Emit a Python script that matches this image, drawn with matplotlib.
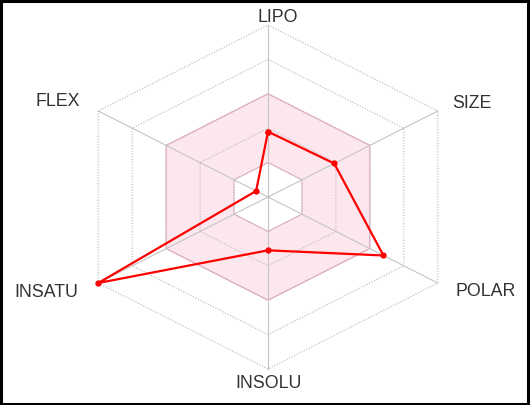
import numpy as np
import matplotlib
matplotlib.use("Agg")
import matplotlib.pyplot as plt
from matplotlib.patches import Rectangle, PathPatch
from matplotlib.path import Path

# axes of the bioavailability radar, clockwise from the top
labels = ["LIPO", "SIZE", "POLAR", "INSOLU", "INSATU", "FLEX"]
# values as a fraction of the outer ring
values = [0.38, 0.39, 0.68, 0.31, 1.0, 0.07]
# optimal range band (inner and outer ring)
band_lo = 0.2
band_hi = 0.6
rings = [0.2, 0.4, 0.6, 0.8, 1.0]

# label positions in pixels (x, y from top)
label_px = [(278, 17), (472, 104), (486, 292), (269, 384), (46, 293), (58, 102)]

W, H = 530, 406
fig = plt.figure(figsize=(W / 100, H / 100), dpi=100)
ax = fig.add_axes([0, 0, 1, 1])

cx, cy = 268, 198    # centre in pixels
sx, sy = 196, 172    # pixels per data unit
ax.set_xlim(-cx / sx, (W - cx) / sx)
ax.set_ylim((cy - H) / sy, cy / sy)
ax.axis("off")

theta = np.arange(len(labels)) * np.pi / 3


def ring_xy(r):
    r = np.asarray(r, dtype=float) * np.ones(len(theta))
    return np.column_stack([r * np.sin(theta), r * np.cos(theta)])


# pink band between the two rings (outer hexagon with a hole)
outer = ring_xy(band_hi)
inner = ring_xy(band_lo)[::-1]
n = len(theta)
verts = np.vstack([outer, outer[:1], inner, inner[:1]])
codes = ([Path.MOVETO] + [Path.LINETO] * (n - 1) + [Path.CLOSEPOLY]) * 2
ax.add_patch(PathPatch(Path(verts, codes), facecolor="#fde7ee", edgecolor="none", zorder=1))
ax.add_patch(PathPatch(Path(np.vstack([outer, outer[:1]]), codes[:n + 1]), fill=False,
                       edgecolor="#eeb3c4", lw=1.0, zorder=2))
ax.add_patch(PathPatch(Path(np.vstack([inner, inner[:1]]), codes[:n + 1]), fill=False,
                       edgecolor="#eeb3c4", lw=0.8, zorder=2))

# dotted grid rings
for r in rings:
    g = ring_xy(r)
    ax.plot(np.append(g[:, 0], g[0, 0]), np.append(g[:, 1], g[0, 1]), color="#b5b5b5",
            lw=0.8, ls=(0, (1, 1.5)), zorder=2)

# spokes
for t in theta:
    ax.plot([0, np.sin(t)], [0, np.cos(t)], color="#c4c4c4", lw=0.8, zorder=2)

# data polygon
d = ring_xy(values)
ax.plot(np.append(d[:, 0], d[0, 0]), np.append(d[:, 1], d[0, 1]), color="#ff0000", lw=1.6,
        marker="o", ms=3.5, zorder=5)

# labels
for lab, (px, py) in zip(labels, label_px):
    fig.text(px / W, 1 - py / H, lab, ha="center", va="center",
             fontsize=12.8, color="#333333", family="Liberation Sans")

# frame
fig.patches.append(Rectangle((0.002, 0.003), 0.995, 0.993, transform=fig.transFigure,
                             fill=False, edgecolor="black", lw=2.2))

fig.savefig("out.png", dpi=100)
